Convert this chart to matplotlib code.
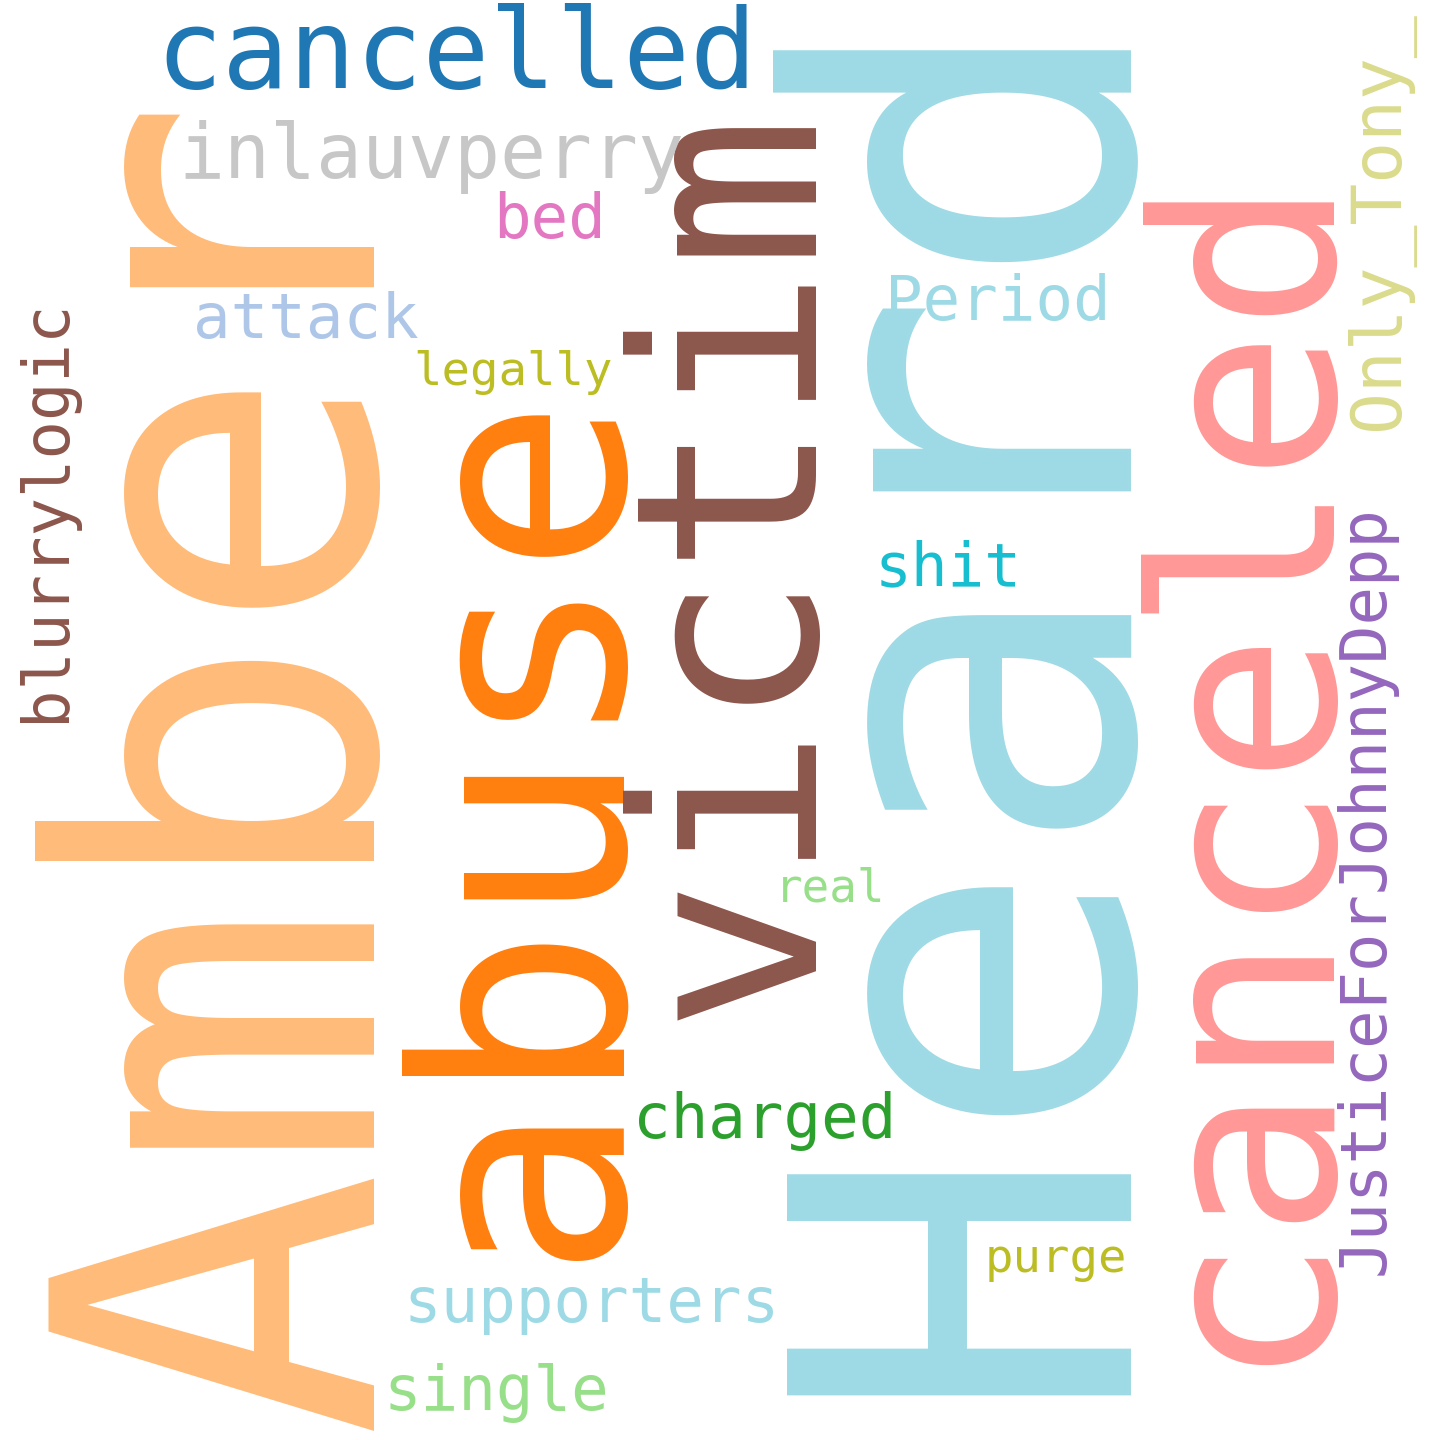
import matplotlib
matplotlib.use("Agg")
import matplotlib.pyplot as plt

# word cloud data: word, font size (pt), colour, rotation, baseline start (px)
words = ["Amber", "Heard", "abuse", "victim", "canceled", "cancelled",
         "inlauvperry", "bed", "attack", "legally", "Period", "shit",
         "real", "charged", "purge", "supporters", "single",
         "blurrylogic", "JusticeForJohnnyDepp", "Only_Tony_"]
sizes = [321, 340, 211, 183, 181, 80, 55, 45, 45, 34, 45, 44, 33, 45, 34,
         45, 45, 46, 46, 50]
colors = ["#ffbb78", "#9edae5", "#ff7f0e", "#8c564b", "#ff9896", "#1f77b4",
          "#c7c7c7", "#e377c2", "#aec7e8", "#bcbd22", "#9edae5", "#17becf",
          "#98df8a", "#2ca02c", "#bcbd22", "#9edae5", "#98df8a",
          "#8c564b", "#9467bd", "#dbdb8d"]
rotations = [90, 90, 90, 90, 90, 0, 0, 0, 0, 0, 0, 0, 0, 0, 0, 0, 0,
             90, 90, 90]
xs = [367, 1100, 606, 805, 1311, 155, 178, 493, 193, 413, 885, 875, 775,
      633, 985, 403, 383, 64, 1384, 1398]
ys = [1430, 1395, 1260, 1020, 1365, 88, 178, 238, 338, 385, 320, 585, 902,
      1138, 1272, 1322, 1410, 722, 1275, 430]

fig = plt.figure(figsize=(14.4, 14.4), dpi=100)
ax = fig.add_axes([0, 0, 1, 1])
ax.set_xlim(0, 1440)
ax.set_ylim(1440, 0)
ax.axis("off")

for w, s, c, r, x, y in zip(words, sizes, colors, rotations, xs, ys):
    ax.text(x, y, w, fontsize=s, color=c, rotation=r, rotation_mode="anchor",
            ha="left", va="baseline", family="DejaVu Sans Mono")

fig.savefig("out.png", dpi=100, facecolor="white")
